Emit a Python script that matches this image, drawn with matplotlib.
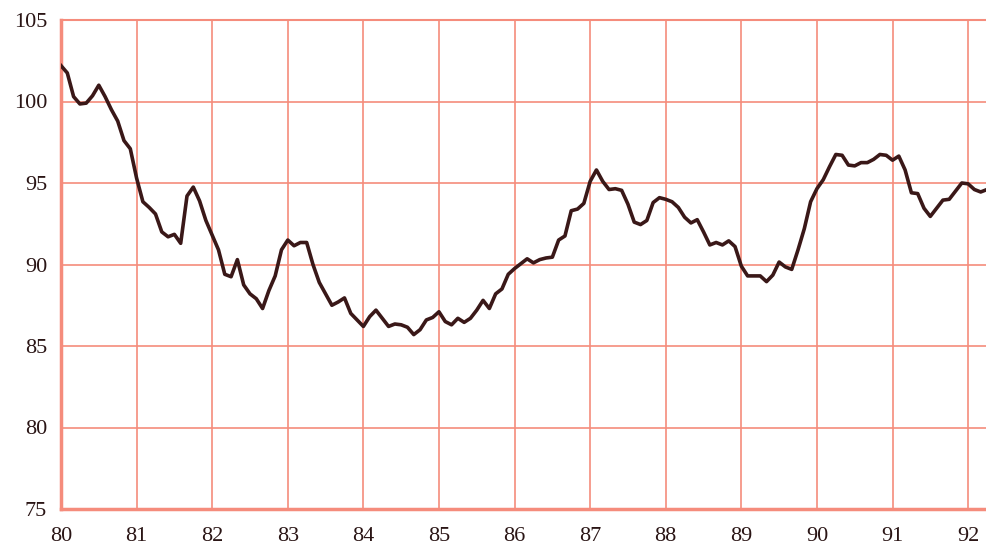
import numpy as np
import matplotlib
matplotlib.use("Agg")
import matplotlib.pyplot as plt

# Monthly index values, Jan 1980 .. Apr 1992
y1980 = [102.2, 101.75, 100.3, 99.85, 99.9, 100.35, 101.0, 100.3, 99.5, 98.8, 97.6, 97.1]
y1981 = [95.3, 93.85, 93.5, 93.1, 92.0, 91.7, 91.85, 91.3, 94.2, 94.75, 93.9, 92.7]
y1982 = [91.8, 90.9, 89.4, 89.25, 90.3, 88.75, 88.2, 87.9, 87.3, 88.4, 89.3, 90.9]
y1983 = [91.5, 91.15, 91.35, 91.35, 90.0, 88.9, 88.2, 87.5, 87.7, 87.95, 87.0, 86.6]
y1984 = [86.2, 86.8, 87.2, 86.7, 86.2, 86.35, 86.3, 86.15, 85.7, 86.0, 86.6, 86.75]
y1985 = [87.1, 86.5, 86.3, 86.7, 86.45, 86.7, 87.2, 87.8, 87.3, 88.2, 88.5, 89.4]
y1986 = [89.75, 90.05, 90.35, 90.1, 90.3, 90.4, 90.45, 91.5, 91.75, 93.3, 93.4, 93.75]
y1987 = [95.1, 95.8, 95.1, 94.6, 94.65, 94.55, 93.7, 92.6, 92.45, 92.7, 93.8, 94.1]
y1988 = [94.0, 93.85, 93.5, 92.9, 92.55, 92.75, 92.0, 91.2, 91.35, 91.2, 91.45, 91.1]
y1989 = [89.9, 89.3, 89.3, 89.3, 88.95, 89.35, 90.15, 89.85, 89.7, 90.9, 92.2, 93.85]
y1990 = [94.65, 95.2, 96.0, 96.75, 96.7, 96.1, 96.05, 96.25, 96.25, 96.45, 96.75, 96.7]
y1991 = [96.4, 96.65, 95.8, 94.4, 94.35, 93.45, 92.95, 93.45, 93.95, 94.0, 94.5, 95.0]
y1992 = [94.95, 94.6, 94.45, 94.6]

start_year = 80
x_ticks = list(range(80, 93))
x_labels = [str(t) for t in x_ticks]
y_ticks = [75, 80, 85, 90, 95, 100, 105]
y_labels = [str(t) for t in y_ticks]

values = np.array(y1980 + y1981 + y1982 + y1983 + y1984 + y1985 + y1986 +
                  y1987 + y1988 + y1989 + y1990 + y1991 + y1992)
x = start_year + np.arange(len(values)) / 12.0

grid_col = "#F58C7C"
text_col = "#2a1515"

fig = plt.figure(figsize=(9.87, 5.52), dpi=100)
ax = fig.add_axes([61 / 987, 43 / 552, 926 / 987, 489 / 552])

ax.set_xlim(80, 80 + 12.25)
ax.set_ylim(75, 105)
ax.set_xticks(x_ticks)
ax.set_xticklabels(x_labels)
ax.set_yticks(y_ticks)
ax.set_yticklabels(y_labels)

ax.grid(True, color=grid_col, linewidth=1.2)
ax.set_axisbelow(True)
ax.spines["right"].set_visible(False)
ax.spines["top"].set_color(grid_col)
ax.spines["top"].set_linewidth(1.5)
ax.spines["left"].set_color(grid_col)
ax.spines["left"].set_linewidth(2.5)
ax.spines["bottom"].set_color(grid_col)
ax.spines["bottom"].set_linewidth(2.5)

ax.tick_params(axis="both", length=0, labelsize=16, labelcolor=text_col)
ax.tick_params(axis="x", pad=13)
ax.tick_params(axis="y", pad=10)
for lab in ax.get_xticklabels() + ax.get_yticklabels():
    lab.set_fontfamily("Liberation Serif")

ax.plot(x, values, color="#3a1818", linewidth=2.6, solid_joinstyle="round", zorder=3)

fig.savefig("out.png", dpi=100)
